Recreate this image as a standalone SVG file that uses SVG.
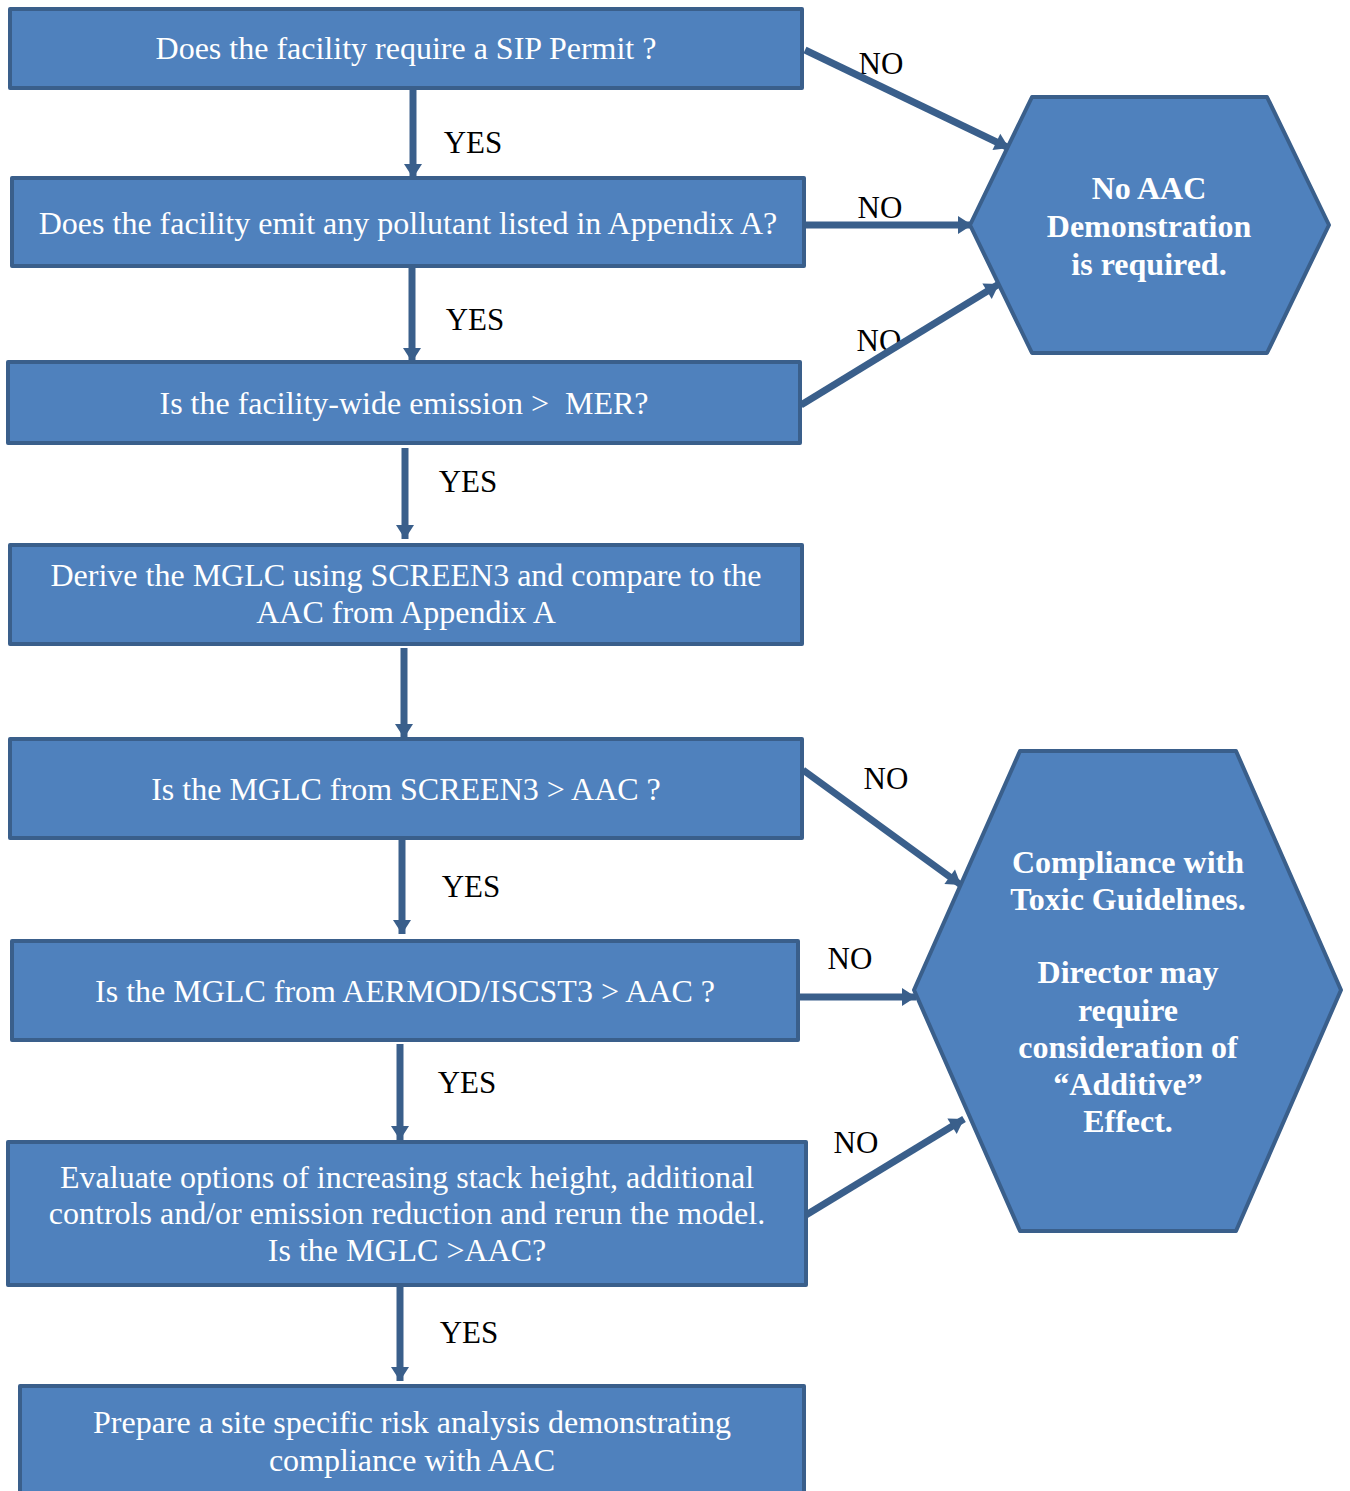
<svg xmlns="http://www.w3.org/2000/svg" width="1350" height="1491" viewBox="0 0 1350 1491">
<style>
.box{fill:#4F81BD;stroke:#3A5F8B;stroke-width:4;stroke-linejoin:round}
.t{font-family:"Liberation Serif","Times New Roman",serif;font-size:32px;fill:#fff;text-anchor:middle}
.h{font-family:"Liberation Serif","Times New Roman",serif;font-size:32px;font-weight:bold;fill:#fff;text-anchor:middle}
.l{font-family:"Liberation Serif","Times New Roman",serif;font-size:31px;fill:#000;text-anchor:middle}
.c{stroke:#3A5F8B;stroke-width:7;fill:none}
</style>
<defs>
<marker id="ah" markerUnits="userSpaceOnUse" markerWidth="24" markerHeight="24" viewBox="0 0 24 24" refX="20" refY="12" orient="auto">
<path d="M6,3 L20,12 L6,21 Z" fill="#3A5F8B"/>
</marker>
</defs>
<rect width="1350" height="1491" fill="#fff"/>
<g id="labels">
<text class="l" x="881" y="74">NO</text>
<text class="l" x="880" y="218">NO</text>
<text class="l" x="879" y="351">NO</text>
<text class="l" x="473" y="153">YES</text>
<text class="l" x="475" y="330">YES</text>
<text class="l" x="468" y="492">YES</text>
<text class="l" x="886" y="789">NO</text>
<text class="l" x="471" y="897">YES</text>
<text class="l" x="850" y="969">NO</text>
<text class="l" x="467" y="1093">YES</text>
<text class="l" x="856" y="1153">NO</text>
<text class="l" x="469" y="1343">YES</text>
</g>
<g id="connectors">
<line class="c" x1="413" y1="88" x2="413" y2="178" marker-end="url(#ah)"/>
<line class="c" x1="412" y1="266" x2="412" y2="362" marker-end="url(#ah)"/>
<line class="c" x1="405" y1="448" x2="405" y2="539" marker-end="url(#ah)"/>
<line class="c" x1="404" y1="648" x2="404" y2="738" marker-end="url(#ah)"/>
<line class="c" x1="402" y1="838" x2="402" y2="934" marker-end="url(#ah)"/>
<line class="c" x1="400" y1="1044" x2="400" y2="1140" marker-end="url(#ah)"/>
<line class="c" x1="400" y1="1285" x2="400" y2="1381" marker-end="url(#ah)"/>
<line class="c" x1="805" y1="50" x2="1009" y2="148" marker-end="url(#ah)"/>
<line class="c" x1="804" y1="225" x2="972" y2="225" marker-end="url(#ah)"/>
<line class="c" x1="801" y1="405" x2="999" y2="284" marker-end="url(#ah)"/>
<line class="c" x1="803" y1="770" x2="961" y2="885" marker-end="url(#ah)"/>
<line class="c" x1="798" y1="997" x2="916" y2="997" marker-end="url(#ah)"/>
<line class="c" x1="806" y1="1215" x2="964" y2="1119" marker-end="url(#ah)"/>
</g>
<g id="n1"><rect class="box" x="10" y="9" width="792" height="79"/><text class="t" x="406" y="59">Does the facility require a SIP Permit ?</text></g>
<g id="n2"><rect class="box" x="12" y="178" width="792" height="88"/><text class="t" x="408" y="234">Does the facility emit any pollutant listed in Appendix A?</text></g>
<g id="n3"><rect class="box" x="8" y="362" width="792" height="81"/><text class="t" x="404" y="414" xml:space="preserve">Is the facility-wide emission &gt;  MER?</text></g>
<g id="n4"><rect class="box" x="10" y="545" width="792" height="99"/><text class="t" x="406" y="586">Derive the MGLC using SCREEN3 and compare to the</text><text class="t" x="406" y="623">AAC from Appendix A</text></g>
<g id="n5"><rect class="box" x="10" y="739" width="792" height="99"/><text class="t" x="406" y="800">Is the MGLC from SCREEN3 &gt; AAC ?</text></g>
<g id="n6"><rect class="box" x="12" y="941" width="786" height="99"/><text class="t" x="405" y="1002">Is the MGLC from AERMOD/ISCST3 &gt; AAC ?</text></g>
<g id="n7"><rect class="box" x="8" y="1142" width="798" height="143"/><text class="t" x="407" y="1188">Evaluate options of increasing stack height, additional</text><text class="t" x="407" y="1224">controls and/or emission reduction and rerun the model.</text><text class="t" x="407" y="1261">Is the MGLC &gt;AAC?</text></g>
<g id="n8"><rect class="box" x="20" y="1386" width="784" height="110"/><text class="t" x="412" y="1433">Prepare a site specific risk analysis demonstrating</text><text class="t" x="412" y="1471">compliance with AAC</text></g>
<g id="h1"><polygon class="box" points="1032,97 1267,97 1329,225 1267,353 1032,353 970,225"/><text class="h" x="1149" y="199">No AAC</text><text class="h" x="1149" y="237">Demonstration</text><text class="h" x="1149" y="275">is required.</text></g>
<g id="h2"><polygon class="box" points="1020,751 1236,751 1341,990 1236,1231 1020,1231 914,990"/><text class="h" x="1128" y="873">Compliance with</text><text class="h" x="1128" y="910">Toxic Guidelines.</text><text class="h" x="1128" y="983">Director may</text><text class="h" x="1128" y="1021">require</text><text class="h" x="1128" y="1058">consideration of</text><text class="h" x="1128" y="1095">“Additive”</text><text class="h" x="1128" y="1132">Effect.</text></g>
</svg>
